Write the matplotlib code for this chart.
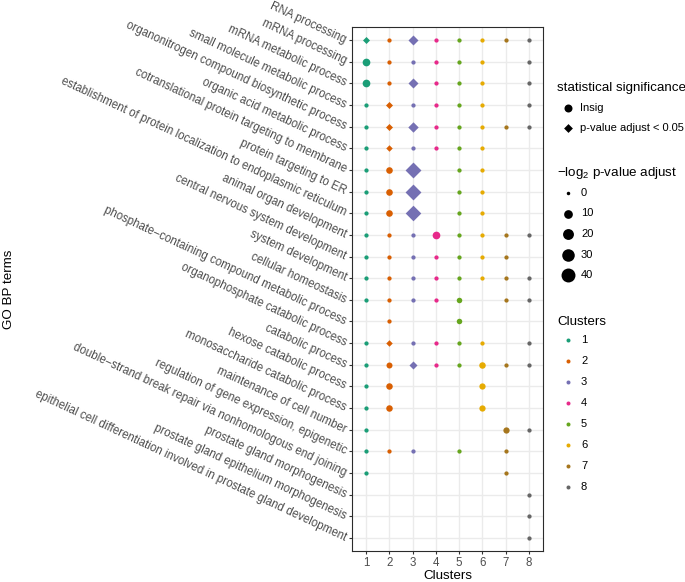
import numpy as np
import matplotlib
matplotlib.use('Agg')
import matplotlib.pyplot as plt

plt.rcParams['font.family'] = ['Liberation Sans', 'DejaVu Sans']
plt.rcParams['mathtext.fontset'] = 'custom'
plt.rcParams['mathtext.rm'] = 'Liberation Sans'

# GO terms, top to bottom
terms = [
    'RNA processing',
    'mRNA processing',
    'mRNA metabolic process',
    'small molecule metabolic process',
    'organonitrogen compound biosynthetic process',
    'organic acid metabolic process',
    'cotranslational protein targeting to membrane',
    'protein targeting to ER',
    'establishment of protein localization to endoplasmic reticulum',
    'animal organ development',
    'central nervous system development',
    'system development',
    'cellular homeostasis',
    'phosphate\u2212containing compound metabolic process',
    'organophosphate catabolic process',
    'catabolic process',
    'hexose catabolic process',
    'monosaccharide catabolic process',
    'maintenance of cell number',
    'regulation of gene expression, epigenetic',
    'double\u2212strand break repair via nonhomologous end joining',
    'prostate gland morphogenesis',
    'prostate gland epithelium morphogenesis',
    'epithelial cell differentiation involved in prostate gland development',
]
clusters = ['1', '2', '3', '4', '5', '6', '7', '8']
colors = ['#1B9E77', '#D95F02', '#7570B3', '#E7298A',
          '#66A61E', '#E6AB02', '#A6761D', '#666666']

n = np.nan
# -log2 p-value adjust, rows = terms, cols = clusters
logp = np.array([
    [3.0, 0.2, 11.5, 0.2, 0.2, 0.2, 0.2, 0.2],
    [6.5, 0.2, 0.2, 0.2, 0.2, 0.2, n, 0.2],
    [6.5, 0.2, 11.5, 0.2, 0.2, 0.2, n, 0.2],
    [0.2, 3.0, 0.2, 0.2, 0.2, 0.2, n, 0.2],
    [0.2, 3.0, 13.0, 0.2, 0.2, 0.2, 0.2, 0.2],
    [0.2, 2.1, 0.2, 0.2, 0.2, 0.2, n, n],
    [0.2, 3.5, 44.0, n, 0.2, 0.2, n, n],
    [0.2, 3.5, 44.0, n, 0.2, 0.2, n, n],
    [0.2, 3.5, 42.0, n, 0.2, 0.2, n, n],
    [0.2, 0.2, 0.2, 6.5, 0.2, 0.2, 0.2, 0.2],
    [0.2, 0.2, 0.2, 0.2, 0.2, 0.2, 0.2, n],
    [0.2, 0.2, 0.2, 0.2, 0.2, 0.2, 0.2, 0.2],
    [0.2, 0.2, 0.2, 0.2, 1.5, n, 0.2, 0.2],
    [n, 0.2, n, n, 1.5, n, n, n],
    [0.2, 2.1, 0.2, 0.2, 0.2, 0.2, n, 0.2],
    [0.2, 2.3, 5.3, 0.2, 0.2, 3.3, 0.2, 0.2],
    [0.2, 3.3, n, n, n, 2.8, n, n],
    [0.2, 3.3, n, n, n, 2.8, n, n],
    [0.2, n, n, n, n, n, 2.8, 0.2],
    [0.2, 0.2, 0.2, n, 0.2, n, 0.2, n],
    [0.2, n, n, n, n, n, 0.2, n],
    [n, n, n, n, n, n, n, 0.2],
    [n, n, n, n, n, n, n, 0.2],
    [n, n, n, n, n, n, n, 0.2],
])
# 1 = p-value adjust < 0.05 (diamond), 0 = Insig (circle)
sig = np.zeros(logp.shape, dtype=int)
for r, c in [(0, 0), (0, 2), (2, 2), (3, 1), (4, 1), (4, 2), (5, 1),
             (6, 2), (7, 2), (8, 2), (14, 1), (15, 2)]:
    sig[r, c] = 1

size_breaks = [0, 10, 20, 30, 40]
shape_labels = ['Insig', 'p-value adjust < 0.05']

PX = 0.72  # points per pixel at dpi 100


def diam_px(v):
    return 3.5 + 1.65 * np.sqrt(v)


def marker_s(d_px, diamond):
    if diamond:
        ms = d_px * 1.1 / 1.414 * PX
    else:
        ms = d_px * PX
    return ms ** 2


fig = plt.figure(figsize=(6.85, 5.82), dpi=100)
W, H = 685, 582
ax = fig.add_axes([352 / W, 1 - 551 / H, (543 - 352) / W, (551 - 27) / H])

nt = len(terms)
ypos = nt - np.arange(nt)
for j, cl in enumerate(clusters):
    for i in range(nt):
        v = logp[i, j]
        if np.isnan(v):
            continue
        d = sig[i, j] == 1
        ax.scatter(j + 1, ypos[i], s=marker_s(diam_px(v), d),
                   marker='D' if d else 'o', color=colors[j],
                   linewidths=0, zorder=3)

ax.set_xlim(0.4, 8.6)
ax.set_ylim(0.4, nt + 0.6)
ax.set_xticks(range(1, 9))
ax.set_xticklabels(clusters)
ax.set_yticks(ypos)
ax.set_yticklabels(terms, rotation=-25, ha='right', va='center',
                   rotation_mode='anchor')
ax.grid(True, color='#EBEBEB', lw=1.0, zorder=0)
ax.set_axisbelow(True)
for sp in ax.spines.values():
    sp.set_color('#2b2b2b')
    sp.set_linewidth(0.8)
ax.tick_params(length=2.5, width=0.8, color='#333333', labelcolor='#4D4D4D',
               labelsize=8.3, pad=2)

ax.set_xlabel('Clusters', fontsize=9.6, va='center')
ax.xaxis.set_label_coords(0.5, -(576 - 551) / 524)
ax.set_ylabel('GO BP terms', fontsize=9.6, va='center')
ax.yaxis.set_label_coords((9 - 352) / 191, 0.5)

# legends, drawn in a pixel-coordinate overlay
lg = fig.add_axes([0, 0, 1, 1], facecolor='none')
lg.set_xlim(0, W)
lg.set_ylim(H, 0)
lg.axis('off')
tx, mx, lx = 557, 568.5, 580

lg.text(tx, 88, 'statistical significance', fontsize=9.6, va='center')
for k, lab in enumerate(shape_labels):
    y = 108 + 20 * k
    lg.scatter(mx, y, s=marker_s(8, k == 1), marker='D' if k == 1 else 'o',
               color='black', linewidths=0)
    lg.text(lx, y, lab, fontsize=8, va='center')

lg.text(tx, 173, '\u2212log$_2$ p-value adjust', fontsize=9.6, va='center')
for k, b in enumerate(size_breaks):
    y = 193 + 20.5 * k
    lg.scatter(mx, y, s=marker_s(diam_px(b), False), color='black',
               linewidths=0)
    lg.text(lx + 1, y, str(b), fontsize=8, va='center')

lg.text(tx, 322, 'Clusters', fontsize=9.6, va='center')
for k, cl in enumerate(clusters):
    y = 340 + 21 * k
    lg.scatter(mx, y, s=marker_s(4, False), color=colors[k], linewidths=0)
    lg.text(lx + 1, y, cl, fontsize=8, va='center')

fig.savefig('out.png', dpi=100)
